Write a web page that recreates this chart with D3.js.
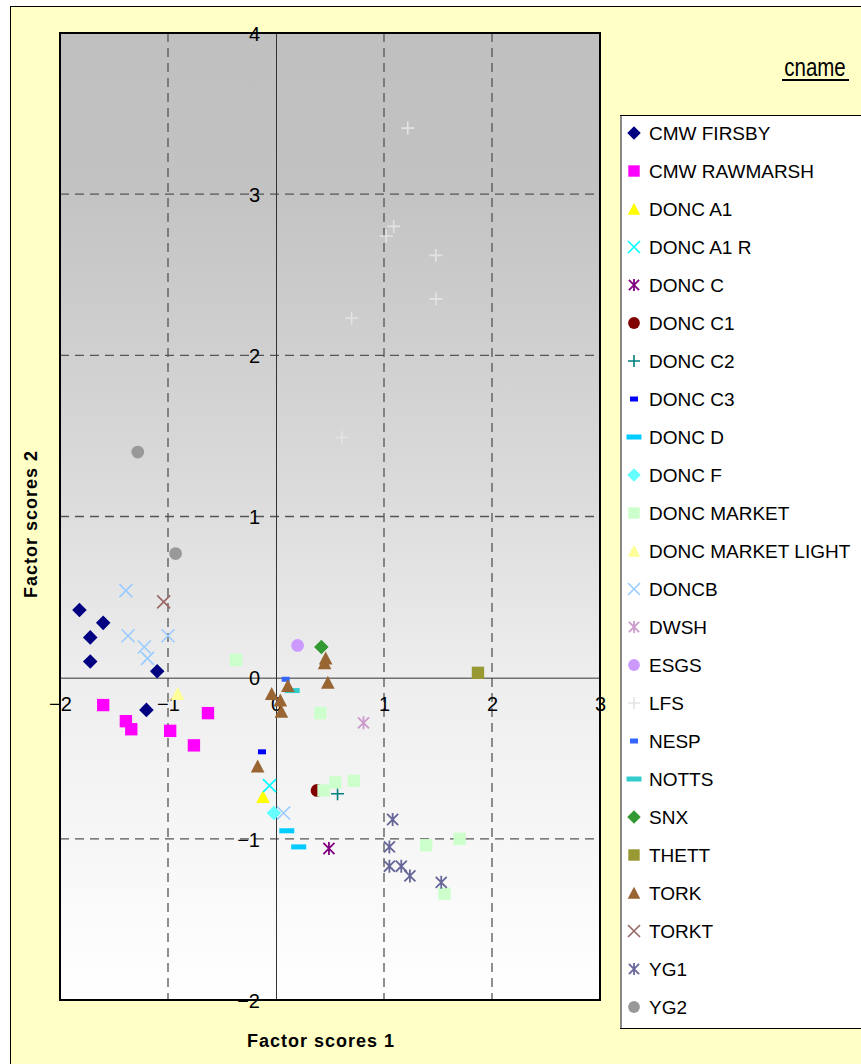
<!DOCTYPE html>
<html><head><meta charset="utf-8">
<script src="https://cdn.jsdelivr.net/npm/d3@7"></script>
<style>body{margin:0;background:#fff}svg{display:block}text{font-family:"Liberation Sans",Arial,sans-serif}</style>
</head><body><svg id="c" width="861" height="1064"></svg>
<script>
// ---- data ----
const seriesNames = ["CMW FIRSBY","CMW RAWMARSH","DONC A1","DONC A1 R","DONC C","DONC C1","DONC C2","DONC C3","DONC D","DONC F","DONC MARKET","DONC MARKET LIGHT","DONCB","DWSH","ESGS","LFS","NESP","NOTTS","SNX","THETT","TORK","TORKT","YG1","YG2"];
const seriesColors = ["#000080","#FF00FF","#FFFF00","#00FFFF","#800080","#800000","#008080","#0000FF","#00CCFF","#66FFFF","#CCFFCC","#FFFF99","#99CCFF","#CC99CC","#CC99FF","#E3E3E3","#3366FF","#33CCCC","#339933","#999933","#996633","#996666","#666699","#999999"];
const seriesShapes = ["diamond","square","triangle","x","star","circle","plus","dashS","dashL","diamond","square","triangle","x","star","circle","plus","dashS","dashL","diamond","square","triangle","x","star","circle"];
const CMW_FIRSBY = [[-1.82,0.42],[-1.60,0.34],[-1.72,0.25],[-1.72,0.10],[-1.10,0.04],[-1.20,-0.20]];
const CMW_RAWMARSH = [[-1.60,-0.17],[-1.39,-0.27],[-1.34,-0.32],[-0.98,-0.33],[-0.63,-0.22],[-0.76,-0.42]];
const DONC_A1 = [[-0.12,-0.74]];
const DONC_A1_R = [[-0.06,-0.67]];
const DONC_C = [[0.49,-1.06]];
const DONC_C1 = [[0.38,-0.70]];
const DONC_C2 = [[0.57,-0.72]];
const DONC_C3 = [[-0.13,-0.46]];
const DONC_D = [[0.10,-0.95],[0.21,-1.05]];
const DONC_F = [[-0.02,-0.84]];
const DONC_MARKET = [[-0.37,0.11],[0.41,-0.22],[0.55,-0.65],[0.72,-0.64],[0.44,-0.70],[1.39,-1.04],[1.70,-1.00],[1.56,-1.34]];
const DONC_MARKET_LIGHT = [[-0.91,-0.10]];
const DONCB = [[-1.39,0.54],[-1.37,0.26],[-1.22,0.19],[-1.19,0.12],[-1.00,0.26],[0.07,-0.84]];
const DWSH = [[0.81,-0.28]];
const ESGS = [[0.20,0.20]];
const LFS = [[1.22,3.41],[1.09,2.80],[1.02,2.74],[1.48,2.62],[1.48,2.35],[0.70,2.23],[0.61,1.49]];
const NESP = [[0.09,-0.01]];
const NOTTS = [[0.15,-0.08]];
const SNX = [[0.42,0.19]];
const THETT = [[1.87,0.03]];
const TORK = [[0.45,0.09],[0.46,0.12],[0.48,-0.03],[0.11,-0.05],[-0.04,-0.10],[0.04,-0.14],[0.05,-0.21],[-0.17,-0.55]];
const TORKT = [[-1.04,0.47]];
const YG1 = [[1.08,-0.88],[1.05,-1.05],[1.05,-1.17],[1.16,-1.17],[1.24,-1.23],[1.53,-1.27]];
const YG2 = [[-1.28,1.40],[-0.93,0.77]];
const seriesPoints = [CMW_FIRSBY,CMW_RAWMARSH,DONC_A1,DONC_A1_R,DONC_C,DONC_C1,DONC_C2,DONC_C3,DONC_D,DONC_F,DONC_MARKET,DONC_MARKET_LIGHT,DONCB,DWSH,ESGS,LFS,NESP,NOTTS,SNX,THETT,TORK,TORKT,YG1,YG2];
const xTicks = [-2,-1,0,1,2,3];
const yTicks = [-2,-1,0,1,2,3,4];
const xTitle = "Factor scores 1", yTitle = "Factor scores 2", legendTitle = "cname";

// ---- layout ----
const svg = d3.select("#c");
const L = 60, R = 600, T = 33, B = 1000;
const x = d3.scaleLinear().domain([-2,3]).range([L,R]);
const y = d3.scaleLinear().domain([-2,4]).range([B,T]);

svg.append("rect").attr("x",0).attr("y",0).attr("width",861).attr("height",1064).attr("fill","#fff");
svg.append("rect").attr("x",10.5).attr("y",6.5).attr("width",900).attr("height",1100).attr("fill","#FFFFC6").attr("stroke","#000").attr("stroke-width",1);

const defs = svg.append("defs");
const g = defs.append("linearGradient").attr("id","bg").attr("x1",0).attr("x2",0).attr("y1",0).attr("y2",1);
[[0,"#C0C0C0"],[0.15,"#C2C2C2"],[0.45,"#D9D9D9"],[0.67,"#EEEEEE"],[1,"#FFFFFF"]].forEach(s=>g.append("stop").attr("offset",s[0]).attr("stop-color",s[1]));
svg.append("rect").attr("x",L).attr("y",T).attr("width",R-L).attr("height",B-T).attr("fill","url(#bg)");

// grid
const grid = svg.append("g").attr("stroke","#555").attr("stroke-width",1.3).attr("stroke-dasharray","9,6");
xTicks.filter(v=>v!==0 && v!==-2 && v!==3).forEach(v=>grid.append("line").attr("x1",x(v)).attr("x2",x(v)).attr("y1",T).attr("y2",B));
yTicks.filter(v=>v!==0 && v!==-2 && v!==4).forEach(v=>grid.append("line").attr("y1",y(v)).attr("y2",y(v)).attr("x1",L).attr("x2",R));

// axes through origin
const xAxis = d3.axisBottom(x).tickValues(xTicks).tickSize(0).tickPadding(22).tickFormat(d3.format("d"));
const yAxis = d3.axisLeft(y).tickValues(yTicks).tickSize(0).tickPadding(16).tickFormat(d3.format("d"));
const gx = svg.append("g").attr("transform",`translate(0,${y(0)})`).call(xAxis);
const gy = svg.append("g").attr("transform",`translate(${x(0)},0)`).call(yAxis);
[gx,gy].forEach(a=>{a.select(".domain").attr("stroke","#333").attr("stroke-width",1);a.selectAll("text").attr("font-size",20).attr("fill","#000").attr("font-family","Liberation Sans, Arial, sans-serif");});
gx.selectAll(".tick text").attr("dy","0.55em");
gy.selectAll(".tick text").attr("dy","0.36em");

svg.append("rect").attr("x",L).attr("y",T).attr("width",R-L).attr("height",B-T).attr("fill","none").attr("stroke","#000").attr("stroke-width",2);

// markers
function drawMarker(sel, shape, color, s){
  const h = s/2;
  if(shape==="diamond") sel.append("path").attr("d",`M0,${-h*1.12}L${h*1.12},0L0,${h*1.12}L${-h*1.12},0Z`).attr("fill",color);
  else if(shape==="square") sel.append("rect").attr("x",-h*0.95).attr("y",-h*0.95).attr("width",s*0.95).attr("height",s*0.95).attr("fill",color);
  else if(shape==="triangle") sel.append("path").attr("d",`M0,${-h*1.05}L${h*1.05},${h*0.95}L${-h*1.05},${h*0.95}Z`).attr("fill",color);
  else if(shape==="circle") sel.append("circle").attr("r",h*0.98).attr("fill",color);
  else if(shape==="x") sel.append("path").attr("d",`M${-h},${-h}L${h},${h}M${-h},${h}L${h},${-h}`).attr("stroke",color).attr("stroke-width",1.6).attr("fill","none");
  else if(shape==="star") sel.append("path").attr("d",`M${-h*0.85},${-h*0.85}L${h*0.85},${h*0.85}M${-h*0.85},${h*0.85}L${h*0.85},${-h*0.85}M0,${-h}L0,${h}`).attr("stroke",color).attr("stroke-width",1.8).attr("fill","none");
  else if(shape==="plus") sel.append("path").attr("d",`M${-h},0L${h},0M0,${-h}L0,${h}`).attr("stroke",color).attr("stroke-width",1.6).attr("fill","none");
  else if(shape==="dashS") sel.append("rect").attr("x",-4).attr("y",-2.5).attr("width",8).attr("height",5).attr("fill",color);
  else if(shape==="dashL") sel.append("rect").attr("x",-7.5).attr("y",-2.5).attr("width",15).attr("height",5).attr("fill",color);
}
const plot = svg.append("g");
seriesPoints.forEach((pts,i)=>{
  pts.forEach(p=>{
    const m = plot.append("g").attr("transform",`translate(${x(p[0])},${y(p[1])})`);
    drawMarker(m, seriesShapes[i], seriesColors[i], 13);
  });
});

// axis titles
svg.append("text").attr("x",321).attr("y",1047).attr("text-anchor","middle").attr("font-size",18).attr("font-weight","bold").attr("letter-spacing",1).text(xTitle);
svg.append("text").attr("transform","translate(37,524) rotate(-90)").attr("text-anchor","middle").attr("font-size",18).attr("font-weight","bold").attr("letter-spacing",1).text(yTitle);

// legend
svg.append("text").attr("transform","translate(815,76) scale(1,1.3)").attr("text-anchor","middle").attr("font-size",20.5).text(legendTitle);
svg.append("line").attr("x1",782).attr("x2",849).attr("y1",80).attr("y2",80).attr("stroke","#000").attr("stroke-width",2);
svg.append("rect").attr("x",620.5).attr("y",115.5).attr("width",300).attr("height",913).attr("fill","#fff").attr("stroke","#000").attr("stroke-width",1);
svg.append("line").attr("x1",621).attr("x2",621).attr("y1",116).attr("y2",1028).attr("stroke","#888").attr("stroke-width",2);
const leg = svg.append("g");
seriesNames.forEach((n,i)=>{
  const yy = 133 + i*38;
  const m = leg.append("g").attr("transform",`translate(634,${yy})`);
  drawMarker(m, seriesShapes[i], seriesColors[i], 12);
  leg.append("text").attr("x",649).attr("y",yy).attr("dy","0.36em").attr("font-size",19).text(n);
});
</script></body></html>
